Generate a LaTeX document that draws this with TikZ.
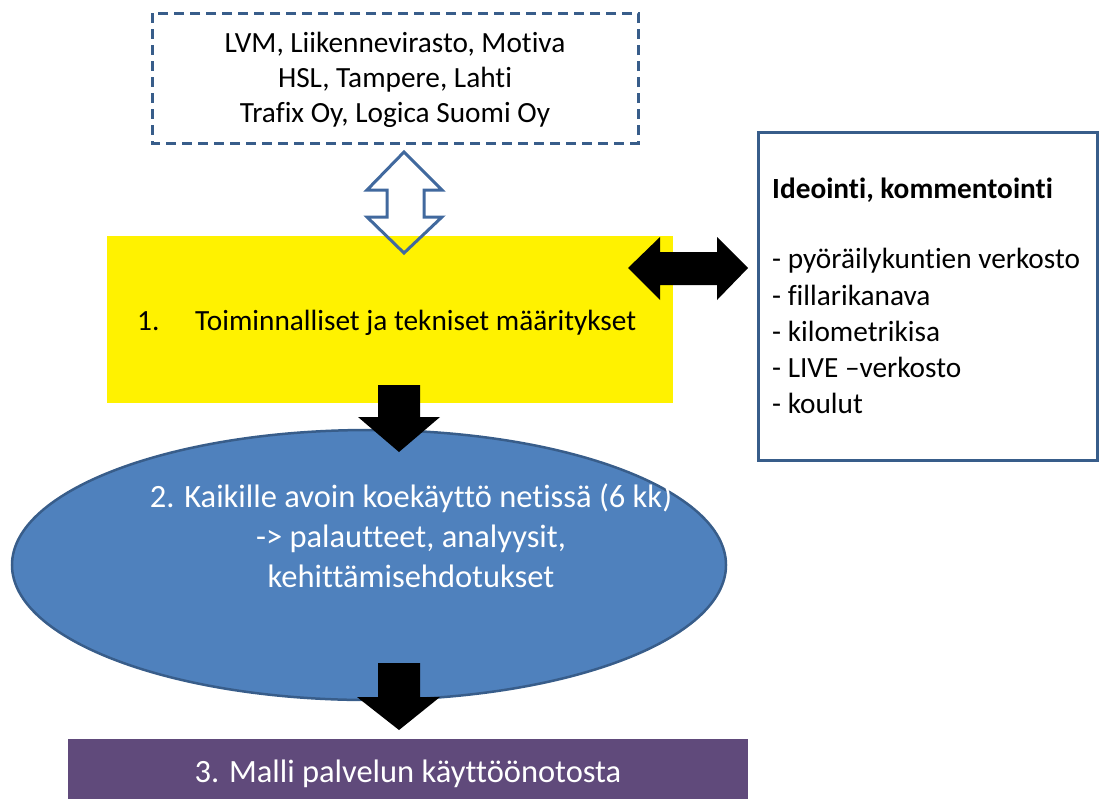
\documentclass[tikz,border=0pt]{standalone}
\usepackage{fontspec}
\setmainfont{Carlito}[RawFeature={-liga}]
\usetikzlibrary{shapes.geometric}
\definecolor{dblue}{HTML}{385D8A}
\definecolor{ablue}{HTML}{41699E}
\definecolor{efill}{HTML}{4F81BD}
\definecolor{pfill}{HTML}{604A7B}
\begin{document}
\begin{tikzpicture}[x=1pt,y=-1pt,
  smallfont/.style={font=\fontsize{29.3}{35.7}\selectfont},
  bigfont/.style={font=\fontsize{32.5}{40}\selectfont},
  txt/.style={inner sep=0pt},
  dashbox/.style={draw=dblue,line width=3pt,dash pattern=on 10pt off 6pt},
  solidbox/.style={draw=dblue,line width=3pt,fill=white},
  blockarrow/.style={fill=black},
  hollowarrow/.style={draw=ablue,line width=3pt,line join=miter}]
\useasboundingbox (0,0) rectangle (1099,798);
% top dashed box
\draw[dashbox] (152,13) rectangle (638,143);
\node[txt,smallfont,anchor=base] (l1) at (395,52) {LVM, Liikennevirasto, Motiva};
\node[txt,smallfont,anchor=base] (l2) at (395,87) {HSL, Tampere, Lahti};
\node[txt,smallfont,anchor=base] (l3) at (395,122) {Trafix Oy, Logica Suomi Oy};
% yellow box
\node[fill=yellow,draw=none,minimum width=566,minimum height=167,anchor=north west,inner sep=0pt] (yb) at (107,236) {};
\node[txt,smallfont,anchor=base west] (y1) at (137,330) {1.};
\node[txt,smallfont,anchor=base west] (y2) at (195,330) {Toiminnalliset ja tekniset määritykset};
% hollow double arrow
\draw[hollowarrow] (404,152) -- (442,190) -- (424,190) -- (424,217) -- (442,217) -- (404,253)
  -- (367,217) -- (387,217) -- (387,190) -- (367,190) -- cycle;
% right box
\draw[solidbox] (758,132) rectangle (1097.5,460);
\node[txt,smallfont,anchor=base west] (h) at (772,198) {\textbf{Ideointi, kommentointi}};
\node[txt,smallfont,anchor=base west] (r1) at (772,268) {- pyöräilykuntien verkosto};
\node[txt,smallfont,anchor=base west] (r2) at (772,305) {- fillarikanava};
\node[txt,smallfont,anchor=base west] (r3) at (772,341) {- kilometrikisa};
\node[txt,smallfont,anchor=base west] (r4) at (772,377) {- LIVE –verkosto};
\node[txt,smallfont,anchor=base west] (r5) at (772,413) {- koulut};
% horizontal black double arrow
\fill[blockarrow] (628,268) -- (660,237) -- (660,252) -- (717,252) -- (717,237) -- (748,268)
  -- (717,300) -- (717,285) -- (660,285) -- (660,300) -- cycle;
% ellipse
\node[ellipse,draw=dblue,line width=2.5pt,fill=efill,minimum width=714,minimum height=270,inner sep=0pt] (el) at (369,565) {};
\node[txt,bigfont,text=white,anchor=base] (e1) at (411,507) {2. Kaikille avoin koekäyttö netissä (6 kk)};
\node[txt,bigfont,text=white,anchor=base] (e2) at (411,547) {-> palautteet, analyysit,};
\node[txt,bigfont,text=white,anchor=base] (e3) at (411,587) {kehittämisehdotukset};
% down arrows
\fill[blockarrow] (378,385) -- (420,385) -- (420,417) -- (440,417) -- (399,452) -- (358,417) -- (378,417) -- cycle;
\fill[blockarrow] (378,663) -- (420,663) -- (420,697) -- (440,697) -- (399,730) -- (357,697) -- (378,697) -- cycle;
% bottom box
\node[fill=pfill,draw=none,minimum width=680,minimum height=60,anchor=north west,inner sep=0pt] (pb) at (68,739) {};
\node[txt,bigfont,text=white,anchor=base] (p1) at (408,782) {3. Malli palvelun käyttöönotosta};
\end{tikzpicture}
\end{document}
